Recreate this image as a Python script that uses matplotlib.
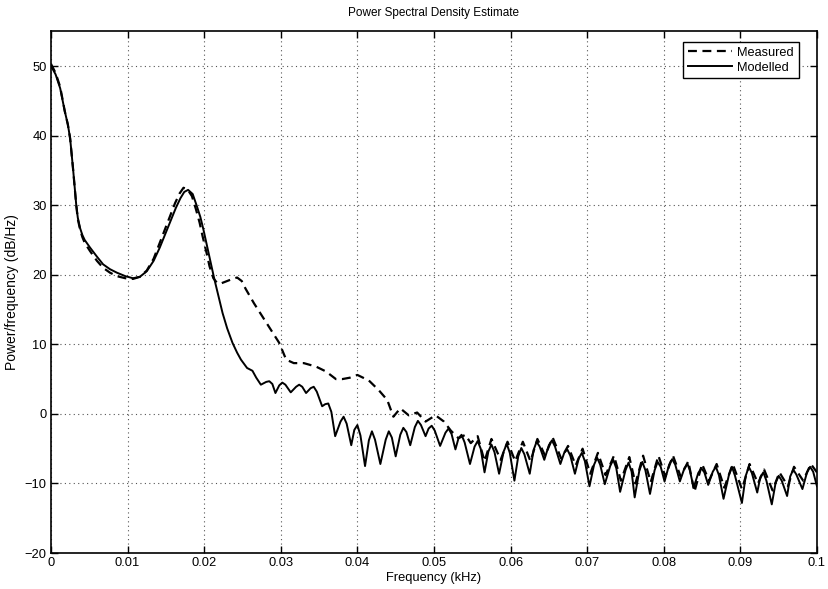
import matplotlib
matplotlib.use("Agg")
import matplotlib.pyplot as plt

plt.rcParams['font.family'] = ['Liberation Sans', 'DejaVu Sans']

# Modelled PSD (solid line): frequency in kHz, power in dB/Hz
modelled_f = [
    0.0000, 0.0006, 0.0012, 0.0018, 0.0022, 0.0025, 0.0029, 0.0033, 0.0035, 0.0038,
    0.0041, 0.0044, 0.0051, 0.0060, 0.0068, 0.0077, 0.0086, 0.0097, 0.0107, 0.0116,
    0.0125, 0.0134, 0.0142, 0.0149, 0.0156, 0.0163, 0.0169, 0.0174, 0.0179, 0.0185,
    0.0190, 0.0195, 0.0199, 0.0204, 0.0208, 0.0213, 0.0218, 0.0224, 0.0230, 0.0237,
    0.0243, 0.0248, 0.0256, 0.0263, 0.0268, 0.0274, 0.0281, 0.0285, 0.0289, 0.0293,
    0.0298, 0.0302, 0.0306, 0.0313, 0.0320, 0.0324, 0.0328, 0.0333, 0.0339, 0.0343,
    0.0347, 0.0354, 0.0358, 0.0362, 0.0366, 0.0371, 0.0378, 0.0382, 0.0386, 0.0392,
    0.0396, 0.0400, 0.0404, 0.0410, 0.0415, 0.0419, 0.0423, 0.0430, 0.0437, 0.0441,
    0.0445, 0.0450, 0.0456, 0.0460, 0.0464, 0.0469, 0.0475, 0.0479, 0.0483, 0.0489,
    0.0493, 0.0497, 0.0501, 0.0508, 0.0515, 0.0519, 0.0523, 0.0528, 0.0532, 0.0536,
    0.0540, 0.0547, 0.0553, 0.0557, 0.0561, 0.0566, 0.0571, 0.0575, 0.0579, 0.0585,
    0.0591, 0.0595, 0.0599, 0.0605, 0.0610, 0.0614, 0.0618, 0.0625, 0.0630, 0.0634,
    0.0638, 0.0644, 0.0650, 0.0654, 0.0658, 0.0665, 0.0670, 0.0674, 0.0678, 0.0684,
    0.0689, 0.0693, 0.0697, 0.0703, 0.0709, 0.0713, 0.0717, 0.0723, 0.0730, 0.0734,
    0.0738, 0.0743, 0.0750, 0.0754, 0.0758, 0.0762, 0.0768, 0.0772, 0.0776, 0.0782,
    0.0788, 0.0792, 0.0796, 0.0801, 0.0807, 0.0811, 0.0815, 0.0821, 0.0827, 0.0831,
    0.0834, 0.0839, 0.0845, 0.0849, 0.0853, 0.0858, 0.0864, 0.0868, 0.0872, 0.0878,
    0.0885, 0.0889, 0.0893, 0.0902, 0.0907, 0.0911, 0.0915, 0.0922, 0.0926, 0.0930,
    0.0934, 0.0941, 0.0946, 0.0950, 0.0954, 0.0961, 0.0965, 0.0969, 0.0973, 0.0981,
    0.0987, 0.0991, 0.0995, 0.1000,
]
modelled_db = [
    50.0, 48.8, 46.8, 43.5, 41.6, 39.6, 35.0, 30.0, 28.2, 26.7,
    25.7, 25.0, 23.9, 22.6, 21.5, 20.8, 20.3, 19.8, 19.5, 19.7,
    20.5, 22.0, 23.9, 25.8, 27.7, 29.6, 31.0, 31.9, 32.2, 31.6,
    30.0, 28.3, 26.5, 24.0, 22.0, 19.5, 17.2, 14.5, 12.3, 10.2,
    8.8, 7.8, 6.6, 6.2, 5.2, 4.2, 4.6, 4.7, 4.3, 3.0,
    4.1, 4.5, 4.2, 3.1, 3.9, 4.2, 3.9, 3.0, 3.7, 3.9,
    3.2, 1.1, 1.4, 1.5, 0.3, -3.2, -1.1, -0.4, -1.4, -4.5,
    -2.3, -1.6, -3.1, -7.5, -3.8, -2.5, -3.7, -7.2, -3.7, -2.5,
    -3.4, -6.1, -3.0, -2.0, -2.6, -4.5, -1.9, -1.0, -1.6, -3.2,
    -2.1, -1.7, -2.4, -4.6, -2.7, -2.1, -2.9, -5.1, -3.5, -3.0,
    -4.1, -7.2, -4.7, -3.9, -5.0, -8.4, -5.4, -4.4, -5.5, -8.6,
    -5.4, -4.3, -5.6, -9.6, -6.1, -4.9, -5.8, -8.6, -5.2, -4.0,
    -4.7, -6.6, -4.5, -3.8, -4.7, -7.2, -5.6, -5.1, -6.0, -8.6,
    -6.4, -5.6, -6.8, -10.4, -7.3, -6.3, -7.3, -10.1, -7.5, -6.6,
    -7.8, -11.2, -8.1, -7.0, -8.3, -12.0, -8.2, -6.9, -8.1, -11.5,
    -8.1, -6.9, -7.6, -9.7, -7.3, -6.5, -7.3, -9.7, -7.8, -7.2,
    -8.1, -10.6, -8.5, -7.8, -8.4, -10.2, -8.3, -7.6, -8.8, -12.2,
    -8.8, -7.6, -8.9, -12.8, -8.9, -7.6, -8.5, -11.3, -9.1, -8.4,
    -9.6, -13.0, -9.9, -8.9, -9.6, -11.8, -9.0, -8.0, -8.7, -10.8,
    -8.4, -7.6, -8.3, -10.4,
]

# Measured PSD (dashed line)
measured_f = [
    0.0000, 0.0006, 0.0012, 0.0018, 0.0022, 0.0025, 0.0029, 0.0033, 0.0035, 0.0038,
    0.0041, 0.0044, 0.0051, 0.0060, 0.0068, 0.0077, 0.0086, 0.0097, 0.0107, 0.0116,
    0.0125, 0.0134, 0.0141, 0.0148, 0.0155, 0.0162, 0.0168, 0.0173, 0.0178, 0.0184,
    0.0189, 0.0194, 0.0198, 0.0203, 0.0207, 0.0212, 0.0217, 0.0223, 0.0230, 0.0237,
    0.0243, 0.0249, 0.0254, 0.0265, 0.0276, 0.0287, 0.0298, 0.0307, 0.0317, 0.0330,
    0.0346, 0.0359, 0.0372, 0.0380, 0.0390, 0.0400, 0.0415, 0.0428, 0.0439, 0.0447,
    0.0456, 0.0467, 0.0478, 0.0489, 0.0502, 0.0513, 0.0522, 0.0532, 0.0541, 0.0548,
    0.0557, 0.0566, 0.0575, 0.0587, 0.0596, 0.0606, 0.0616, 0.0626, 0.0635, 0.0645,
    0.0655, 0.0666, 0.0675, 0.0685, 0.0694, 0.0704, 0.0714, 0.0724, 0.0735, 0.0744,
    0.0755, 0.0763, 0.0773, 0.0783, 0.0793, 0.0802, 0.0812, 0.0822, 0.0832, 0.0840,
    0.0850, 0.0859, 0.0869, 0.0879, 0.0890, 0.0902, 0.0912, 0.0923, 0.0931, 0.0942,
    0.0951, 0.0962, 0.0970, 0.0982, 0.0992, 0.1000,
]
measured_db = [
    50.3, 49.0, 47.0, 43.5, 41.6, 39.6, 35.0, 30.0, 28.0, 26.5,
    25.4, 24.6, 23.4, 22.0, 21.0, 20.3, 19.8, 19.5, 19.4, 19.7,
    20.6, 22.3, 24.3, 26.3, 28.3, 30.3, 31.7, 32.5, 32.3, 31.3,
    29.5, 27.5, 25.5, 23.2, 21.2, 19.5, 18.8, 18.8, 19.1, 19.4,
    19.6, 19.1, 18.0, 15.9, 14.0, 12.1, 10.2, 7.8, 7.3, 7.3,
    6.8, 6.1, 5.0, 5.0, 5.2, 5.6, 4.8, 3.4, 2.0, -0.4,
    0.8, -0.2, 0.2, -1.1, -0.2, -1.1, -2.4, -3.5, -3.0, -4.2,
    -3.2, -6.8, -3.6, -6.6, -4.0, -6.8, -4.0, -6.8, -3.6, -6.0,
    -3.4, -6.4, -4.6, -7.4, -5.0, -8.6, -5.6, -8.8, -6.0, -9.6,
    -6.2, -10.0, -6.0, -9.8, -6.0, -9.0, -6.0, -9.0, -6.8, -11.2,
    -7.2, -9.6, -7.2, -10.6, -7.2, -10.8, -7.2, -10.0, -8.0, -11.0,
    -8.4, -10.4, -7.6, -9.6, -7.2, -8.4,
]

x_ticks = [0, 0.01, 0.02, 0.03, 0.04, 0.05, 0.06, 0.07, 0.08, 0.09, 0.1]
x_tick_labels = ['0', '0.01', '0.02', '0.03', '0.04', '0.05', '0.06', '0.07', '0.08', '0.09', '0.1']
y_ticks = [-20, -10, 0, 10, 20, 30, 40, 50]

fig = plt.figure(figsize=(8.29, 5.89), dpi=100)
ax = fig.add_axes([0.0615, 0.061, 0.924, 0.886])

ax.plot(measured_f, measured_db, color='black', linewidth=1.6,
        linestyle=(0, (4, 2.5)), label='Measured')
ax.plot(modelled_f, modelled_db, color='black', linewidth=1.4,
        solid_joinstyle='round', label='Modelled')

ax.set_xlim(0, 0.1)
ax.set_ylim(-20, 55)
ax.set_xticks(x_ticks)
ax.set_xticklabels(x_tick_labels)
ax.set_yticks(y_ticks)

ax.grid(True, linestyle=(0, (1, 3)), color='#555555', linewidth=0.8)
ax.tick_params(direction='in', top=True, right=True, length=5, width=1.0,
               labelsize=9.3, pad=3)
for side in ax.spines.values():
    side.set_linewidth(1.2)

ax.set_title('Power Spectral Density Estimate', fontsize=8.5, pad=11)
ax.set_xlabel('Frequency (kHz)', fontsize=9.3, labelpad=2)
ax.set_ylabel('Power/frequency (dB/Hz)', fontsize=10, labelpad=4)

leg = ax.legend(loc='upper right', bbox_to_anchor=(0.976, 0.979),
                borderaxespad=0, fontsize=9.2,
                fancybox=False, framealpha=1, edgecolor='black',
                handlelength=3.5, borderpad=0.35, labelspacing=0.25,
                handletextpad=0.4)
leg.get_frame().set_linewidth(1.0)

fig.savefig('out.png', dpi=100)
